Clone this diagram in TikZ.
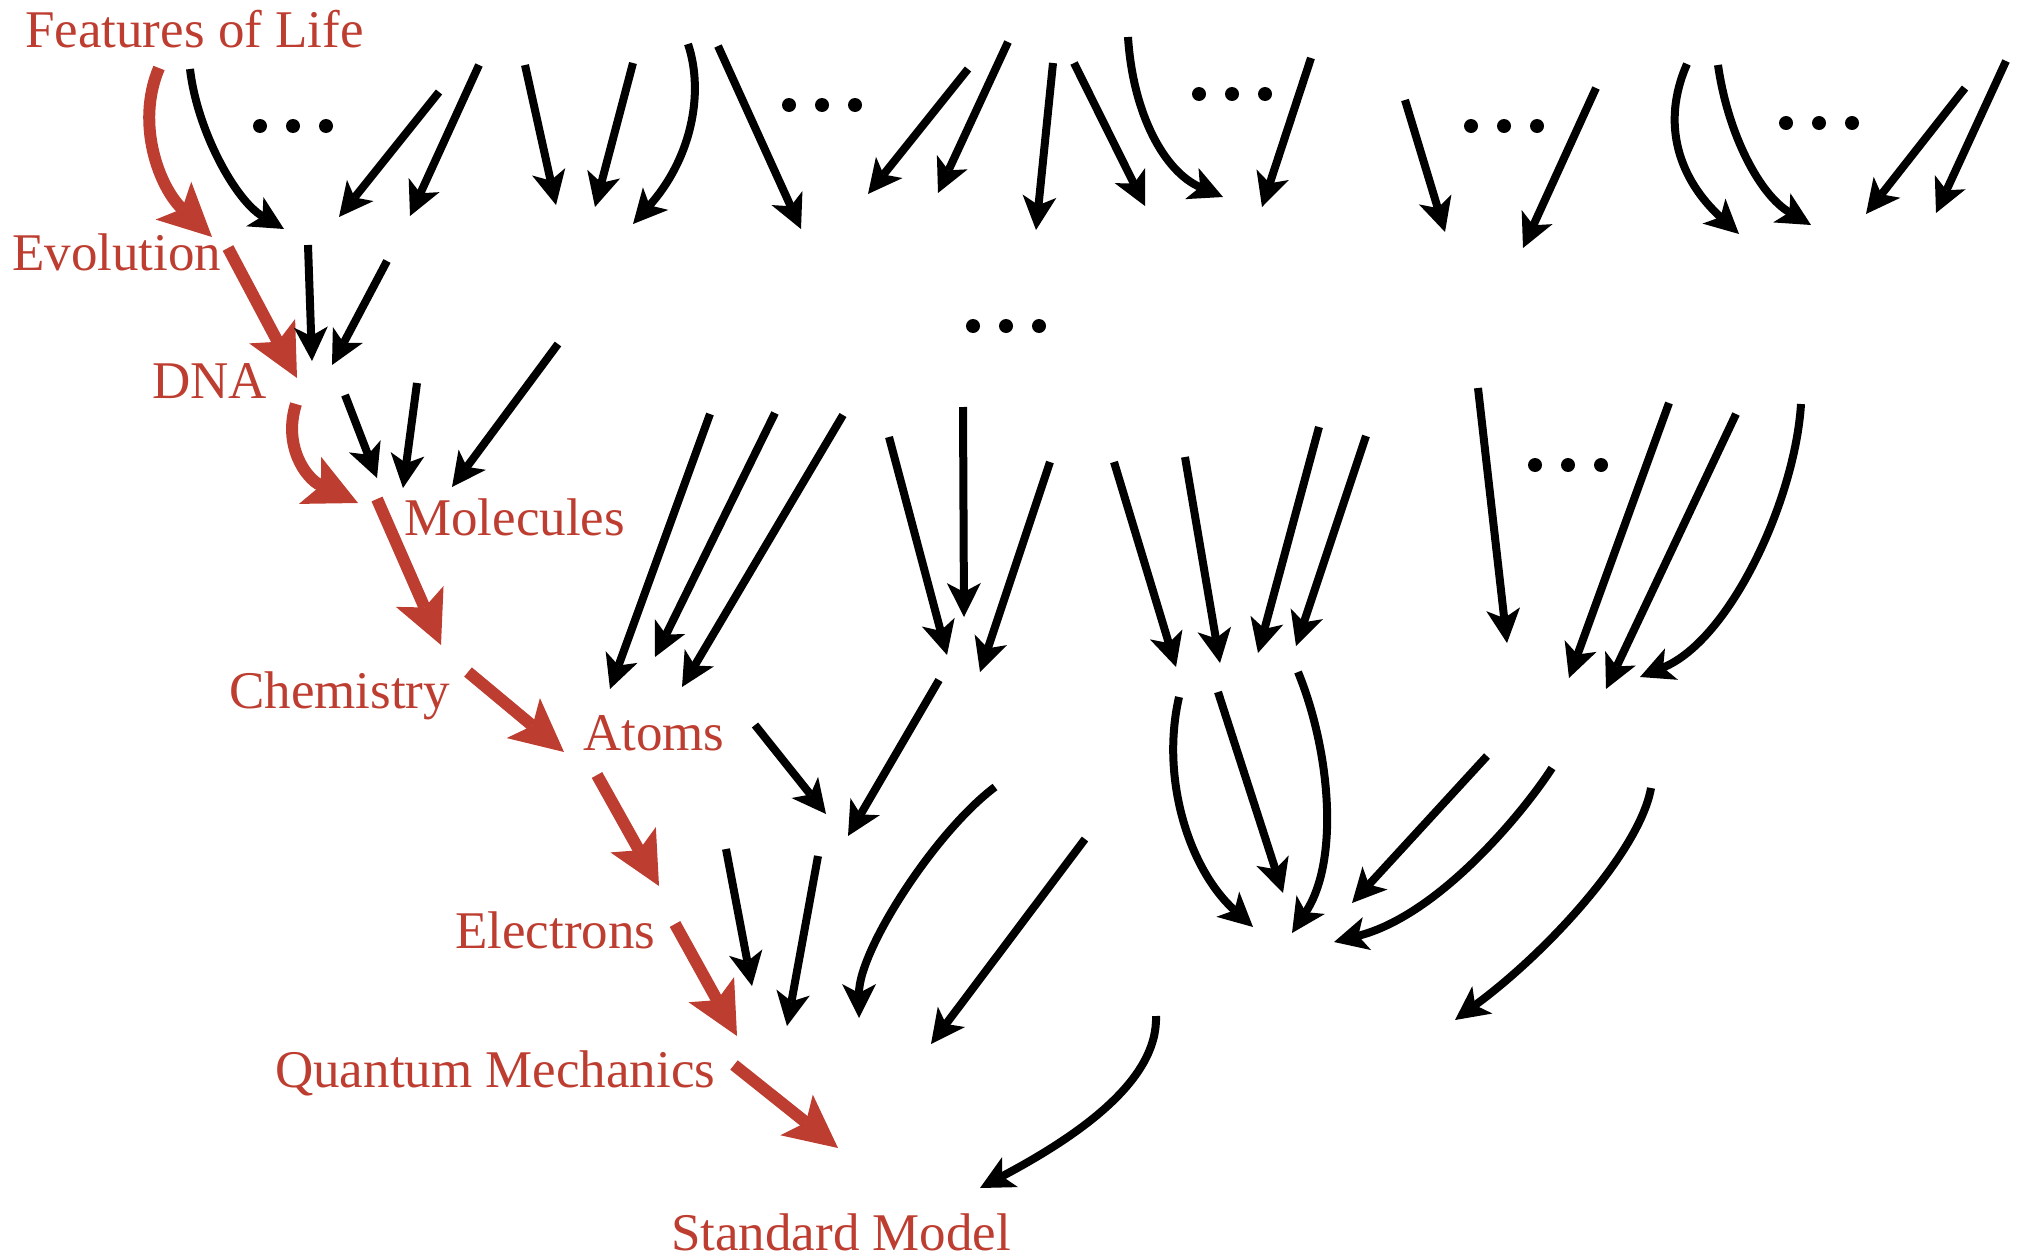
\documentclass[tikz,border=0pt]{standalone}
\usepackage{fontspec}
\setmainfont{Liberation Serif}
\usetikzlibrary{arrows.meta}
\definecolor{lred}{RGB}{189,61,48}
\tikzset{
  lbl/.style={text=lred, inner sep=0pt, anchor=base west, font=\fontsize{53}{60}\selectfont},
  blk/.style={draw=black, line width=8pt, -{Stealth[length=34pt,width=34pt,inset=9pt,line width=0pt]}},
  redarr/.style={draw=lred, line width=12pt, -{Stealth[length=53pt,width=52pt,inset=12pt,line width=0pt]}},
  dots/.pic={\foreach \dx in {-33,0,33} \fill[black] (\dx,0) circle[radius=7pt];}
}
\begin{document}
\begin{tikzpicture}[x=1pt,y=-1pt]
\useasboundingbox (0,0) rectangle (2027,1258);
% labels
\node[lbl] (fol) at (25,47) {Features of Life};
\node[lbl] (evo) at (12,270) {Evolution};
\node[lbl] (dna) at (152,398) {DNA};
\node[lbl] (mol) at (404,535) {Molecules};
\node[lbl] (chem) at (229,708) {Chemistry};
\node[lbl] (atoms) at (583,750) {Atoms};
\node[lbl] (elec) at (455,948) {Electrons};
\node[lbl] (qm) at (275,1087) {Quantum Mechanics};
\node[lbl] (sm) at (671,1250) {Standard Model};
% ellipses
\pic at (293,126) {dots};
\pic at (822,105) {dots};
\pic at (1232,94) {dots};
\pic at (1504,126) {dots};
\pic at (1819,123) {dots};
\pic at (1006,326) {dots};
\pic at (1568,465) {dots};
% red path
\draw[redarr] (159,68) .. controls (135,125) and (160,188) .. (212,237);
\draw[redarr] (228,248) -- (297,378);
\draw[redarr] (296,404) .. controls (283,445) and (305,478) .. (358,503);
\draw[redarr] (377,499) -- (441,645);
\draw[redarr] (468,672) -- (564,752);
\draw[redarr] (597,775) -- (659,886);
\draw[redarr] (675,924) -- (737,1036);
\draw[redarr] (734,1065) -- (838,1148);
% black arrows, top row
\draw[blk] (190,69) .. controls (197,130) and (235,200) .. (284,229);
\draw[blk] (439,92) -- (339,217);
\draw[blk] (479,65) -- (410,216);
\draw[blk] (308,245) -- (312,361);
\draw[blk] (387,261) -- (332,365);
\draw[blk] (525,65) -- (556,205);
\draw[blk] (633,63) -- (595,207);
\draw[blk] (688,44) .. controls (705,95) and (690,160) .. (633,224);
\draw[blk] (718,46) -- (801,229);
\draw[blk] (968,69) -- (868,194);
\draw[blk] (1008,42) -- (938,193);
\draw[blk] (1053,63) -- (1036,230);
\draw[blk] (1074,63) -- (1145,206);
\draw[blk] (1128,37) .. controls (1133,115) and (1165,172) .. (1223,197);
\draw[blk] (1311,58) -- (1262,207);
\draw[blk] (1405,100) -- (1445,232);
\draw[blk] (1596,88) -- (1523,248);
\draw[blk] (1687,64) .. controls (1660,125) and (1680,180) .. (1739,234);
\draw[blk] (1718,65) .. controls (1728,135) and (1760,195) .. (1811,225);
\draw[blk] (1965,88) -- (1866,214);
\draw[blk] (2006,61) -- (1936,213);
% middle
\draw[blk] (345,395) -- (377,478);
\draw[blk] (417,383) -- (403,488);
\draw[blk] (558,344) -- (452,487);
\draw[blk] (710,414) -- (610,689);
\draw[blk] (775,413) -- (655,657);
\draw[blk] (843,415) -- (682,687);
\draw[blk] (889,437) -- (947,655);
\draw[blk] (963,407) -- (964,617);
\draw[blk] (1050,462) -- (980,672);
\draw[blk] (755,725) -- (826,814);
\draw[blk] (939,680) -- (848,836);
\draw[blk] (995,787) .. controls (935,832) and (859,950) .. (859,1018);
\draw[blk] (1114,462) -- (1176,667);
\draw[blk] (1185,457) -- (1220,663);
\draw[blk] (1319,427) -- (1258,653);
\draw[blk] (1366,436) -- (1296,646);
\draw[blk] (1478,388) -- (1507,643);
\draw[blk] (1669,403) -- (1569,678);
\draw[blk] (1736,414) -- (1606,689);
\draw[blk] (1801,404) .. controls (1795,500) and (1730,640) .. (1640,677);
% lower
\draw[blk] (1179,697) .. controls (1160,780) and (1190,870) .. (1253,927);
\draw[blk] (1218,692) -- (1283,893);
\draw[blk] (1298,672) .. controls (1330,750) and (1340,860) .. (1292,933);
\draw[blk] (1487,756) -- (1352,903);
\draw[blk] (1552,768) .. controls (1525,810) and (1440,915) .. (1334,942);
\draw[blk] (1651,788) .. controls (1640,850) and (1550,950) .. (1455,1020);
\draw[blk] (726,849) -- (752,986);
\draw[blk] (818,856) -- (787,1026);
\draw[blk] (1085,839) -- (931,1044);
\draw[blk] (1156,1016) .. controls (1158,1080) and (1080,1135) .. (980,1188);
\end{tikzpicture}
\end{document}
